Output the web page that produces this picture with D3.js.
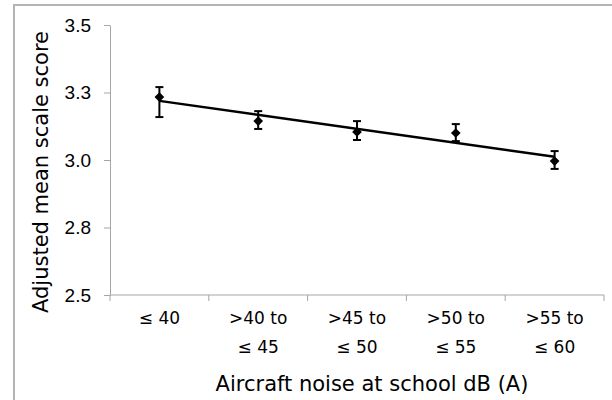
<!DOCTYPE html>
<html lang="en">
<head>
  <meta charset="UTF-8">
  <title>Aircraft noise and adjusted mean scale score</title>
  <style>
    html, body { margin: 0; background: #fff; overflow: hidden; }
    svg { display: block; font-family: "DejaVu Sans", sans-serif; }
    .axis path, .axis line { stroke: #a6a6a6; }
    .axis text { fill: #000; }
  </style>
</head>
<body>
  <div id="chart"></div>

  <script src="https://d3js.org/d3.v7.min.js"></script>
  <script>
    const SVGWIDTH = 612;
    const SVGHEIGHT = 400;
    const margin = {top: 25, right: 8, bottom: 105, left: 110};
    const innerWidth = SVGWIDTH - margin.left - margin.right;
    const innerHeight = SVGHEIGHT - margin.top - margin.bottom;

    // data
    const categories = ['≤ 40', '>40 to ≤ 45', '>45 to ≤ 50', '>50 to ≤ 55', '>55 to ≤ 60'];
    const categoryLines = [['≤ 40'], ['>40 to', '≤ 45'], ['>45 to', '≤ 50'], ['>50 to', '≤ 55'], ['>55 to', '≤ 60']];
    const means = [3.233, 3.144, 3.104, 3.100, 2.996];
    const upper = [3.270, 3.181, 3.144, 3.133, 3.033];
    const lower = [3.159, 3.115, 3.074, 3.070, 2.967];
    const yTicks = [2.5, 2.75, 3.0, 3.25, 3.5];

    const yScale = d3.scaleLinear()
      .domain([2.5, 3.5])
      .range([innerHeight, 0]);

    const xScale = d3.scaleBand()
      .domain(categories)
      .range([0, innerWidth])
      .padding(0);

    const cx = (i) => xScale(categories[i]) + xScale.bandwidth() / 2;

    const svg = d3.select('#chart')
      .append('svg')
      .attr('width', SVGWIDTH)
      .attr('height', SVGHEIGHT);

    // outer frame of the chart area (runs past the right and bottom edges)
    svg.append('path')
      .attr('d', `M14,${SVGHEIGHT}V5H${SVGWIDTH}`)
      .attr('fill', 'none')
      .attr('stroke', '#b4b4b4')
      .attr('stroke-width', 2);

    const mainCont = svg.append('g')
      .attr('transform', `translate(${margin.left},${margin.top})`);

    // y axis
    const yAxis = d3.axisLeft(yScale)
      .tickValues(yTicks)
      .tickFormat(d3.format('.1f'))
      .tickSize(6)
      .tickSizeOuter(0)
      .tickPadding(13);
    const leftAxisCont = mainCont.append('g').attr('class', 'axis').call(yAxis);
    leftAxisCont.selectAll('text').style('font-size', '19px');

    // x axis, ticks between the categories
    const bounds = d3.range(categories.length + 1).map(i => i * xScale.bandwidth());
    const bottomAxisCont = mainCont.append('g')
      .attr('class', 'axis')
      .attr('transform', `translate(0,${innerHeight})`);
    bottomAxisCont.append('line')
      .attr('x1', 0).attr('x2', innerWidth)
      .attr('stroke', '#a6a6a6');
    bottomAxisCont.selectAll('line.tick')
      .data(bounds)
      .enter()
      .append('line')
      .attr('class', 'tick')
      .attr('x1', d => d).attr('x2', d => d)
      .attr('y1', 0).attr('y2', 6)
      .attr('stroke', '#a6a6a6');

    const catLabels = bottomAxisCont.selectAll('text.cat')
      .data(categoryLines)
      .enter()
      .append('text')
      .attr('class', 'cat')
      .attr('text-anchor', 'middle')
      .style('font-size', '17px');
    catLabels.selectAll('tspan')
      .data((d, i) => d.map(line => ({line, i})))
      .enter()
      .append('tspan')
      .attr('x', d => cx(d.i))
      .attr('y', (d, j) => 29 + j * 29)
      .text(d => d.line);

    // axis titles
    mainCont.append('text')
      .attr('transform', `translate(-62,147) rotate(-90)`)
      .attr('text-anchor', 'middle')
      .style('font-size', '21px')
      .text('Adjusted mean scale score');

    mainCont.append('text')
      .attr('x', innerWidth / 2 + 15)
      .attr('y', innerHeight + 96)
      .attr('text-anchor', 'middle')
      .style('font-size', '21px')
      .text('Aircraft noise at school dB (A)');

    // linear trend line (least squares over the category positions)
    const xs = means.map((d, i) => i + 1);
    const mx = d3.mean(xs), my = d3.mean(means);
    const slope = d3.sum(xs, (x, i) => (x - mx) * (means[i] - my)) / d3.sum(xs, x => (x - mx) ** 2);
    const intercept = my - slope * mx;
    const trend = [0, means.length - 1].map(i => [cx(i), yScale(intercept + slope * (i + 1))]);
    mainCont.append('path')
      .attr('d', d3.line()(trend))
      .attr('fill', 'none')
      .attr('stroke', '#000')
      .attr('stroke-width', 2.5);

    // error bars
    const errs = mainCont.selectAll('g.err')
      .data(means)
      .enter()
      .append('g')
      .attr('class', 'err')
      .attr('stroke', '#000')
      .attr('stroke-width', 2);
    errs.append('line')
      .attr('x1', (d, i) => cx(i)).attr('x2', (d, i) => cx(i))
      .attr('y1', (d, i) => yScale(upper[i])).attr('y2', (d, i) => yScale(lower[i]));
    errs.append('line')
      .attr('x1', (d, i) => cx(i) - 4).attr('x2', (d, i) => cx(i) + 4)
      .attr('y1', (d, i) => yScale(upper[i])).attr('y2', (d, i) => yScale(upper[i]));
    errs.append('line')
      .attr('x1', (d, i) => cx(i) - 4).attr('x2', (d, i) => cx(i) + 4)
      .attr('y1', (d, i) => yScale(lower[i])).attr('y2', (d, i) => yScale(lower[i]));

    // diamond markers
    mainCont.selectAll('path.marker')
      .data(means)
      .enter()
      .append('path')
      .attr('class', 'marker')
      .attr('d', d3.symbol().type(d3.symbolDiamond2).size(60))
      .attr('transform', (d, i) => `translate(${cx(i)},${yScale(d)})`)
      .attr('fill', '#000');
  </script>
</body>
</html>
